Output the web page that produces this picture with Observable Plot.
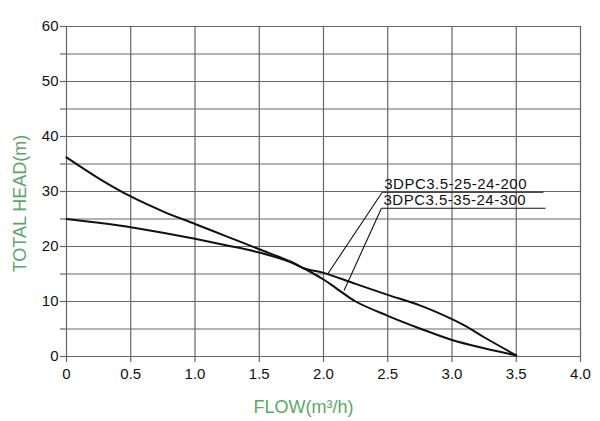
<!DOCTYPE html>
<html>
<head>
<meta charset="utf-8">
<script src="https://cdn.jsdelivr.net/npm/d3@7"></script>
<script src="https://cdn.jsdelivr.net/npm/@observablehq/plot@0.6"></script>
<style>
  html, body { margin: 0; padding: 0; background: #fff; }
  svg { font-family: "Liberation Sans", Arial, sans-serif; }
</style>
</head>
<body>
<div id="chart"></div>
<script>
// Curve 3DPC3.5-35-24-300 (steeper)
const flowA = [0, 0.25, 0.5, 0.75, 1.0, 1.25, 1.5, 1.75, 1.85, 2.0, 2.1, 2.25, 2.5, 2.75, 3.0, 3.25, 3.5];
const headA = [36.2, 32.4, 29.1, 26.4, 24.1, 21.8, 19.5, 17.2, 16.0, 14.0, 12.4, 10.0, 7.4, 5.1, 3.0, 1.5, 0.2];
// Curve 3DPC3.5-25-24-200 (flatter)
const flowB = [0, 0.25, 0.5, 0.75, 1.0, 1.25, 1.5, 1.75, 1.85, 2.0, 2.25, 2.5, 2.75, 3.0, 3.1, 3.25, 3.5];
const headB = [25.0, 24.3, 23.5, 22.5, 21.4, 20.2, 18.9, 17.1, 16.0, 15.2, 13.2, 11.2, 9.3, 6.8, 5.6, 3.5, 0.2];

const modelNames = ["3DPC3.5-25-24-200", "3DPC3.5-35-24-300"];
// leader annotation: curve point, label-line start, label-line end (data units)
const leaderCurveX = [2.03, 2.16];
const leaderCurveY = [14.9, 12.0];
const labelStartX = [2.457, 2.451];
const labelY = [29.87, 26.96];
const labelEndX = [3.712, 3.728];

const xTicks = [0, 0.5, 1.0, 1.5, 2.0, 2.5, 3.0, 3.5, 4.0];
const yTicks = [0, 5, 10, 15, 20, 25, 30, 35, 40, 45, 50, 55, 60];

const xLabel = "FLOW(m³/h)";
const yLabel = "TOTAL HEAD(m)";

const dataA = flowA.map((f, i) => ({flow: f, head: headA[i]}));
const dataB = flowB.map((f, i) => ({flow: f, head: headB[i]}));
const ann = modelNames.map((n, i) => ({
  name: n, cx: leaderCurveX[i], cy: leaderCurveY[i],
  sx: labelStartX[i], y: labelY[i], ex: labelEndX[i]
}));

const green = "#5aa767";
const gridColor = "#666666";

const chart = Plot.plot({
  width: 600,
  height: 421,
  marginLeft: 66,
  marginRight: 20,
  marginTop: 26,
  marginBottom: 65,
  style: {fontFamily: "'Liberation Sans', Arial, sans-serif", fontSize: "15px", color: "#000", background: "#fff"},
  x: {domain: [0, 4], label: null},
  y: {domain: [0, 60], label: null},
  marks: [
    Plot.gridX(xTicks, {stroke: gridColor, strokeOpacity: 1, strokeWidth: 1.2}),
    Plot.gridY(yTicks, {stroke: gridColor, strokeOpacity: 1, strokeWidth: 1.2}),
    Plot.axisX(xTicks, {
      tickSize: 6, tickPadding: 6, stroke: gridColor, strokeWidth: 1.2,
      tickFormat: d => d === 0 ? "0" : d.toFixed(1), fontSize: 15, fill: "#111", label: null
    }),
    Plot.axisY(yTicks, {
      tickSize: 6, tickPadding: 2, stroke: gridColor, strokeWidth: 1.2,
      tickFormat: d => d % 10 === 0 ? String(d) : "", fontSize: 15, fill: "#111", label: null
    }),
    Plot.line(dataA, {x: "flow", y: "head", curve: "catmull-rom", stroke: "#111", strokeWidth: 2}),
    Plot.line(dataB, {x: "flow", y: "head", curve: "catmull-rom", stroke: "#111", strokeWidth: 2}),
    Plot.link(ann, {x1: "cx", y1: "cy", x2: "sx", y2: "y", stroke: "#111", strokeWidth: 1.1}),
    Plot.link(ann, {x1: "sx", y1: "y", x2: "ex", y2: "y", stroke: "#111", strokeWidth: 1.1}),
    Plot.text(ann, {x: "sx", y: "y", text: "name", textAnchor: "start", dx: 2, dy: -8,
      fontSize: 15, fill: "#111", lineAnchor: "middle"}),
    Plot.text([yLabel], {frameAnchor: "left", dx: -46, dy: 12, rotate: -90, text: d => d,
      fill: green, fontSize: 18, textAnchor: "middle", lineAnchor: "middle"}),
    Plot.text([xLabel], {frameAnchor: "bottom", dx: -20, dy: 51, text: d => d,
      fill: green, fontSize: 18, textAnchor: "middle", lineAnchor: "middle"})
  ]
});

d3.select(chart).selectAll("text").filter(function() {
  return modelNames.includes(this.textContent);
}).attr("letter-spacing", "0.5px");

document.getElementById("chart").appendChild(chart);
</script>
</body>
</html>
